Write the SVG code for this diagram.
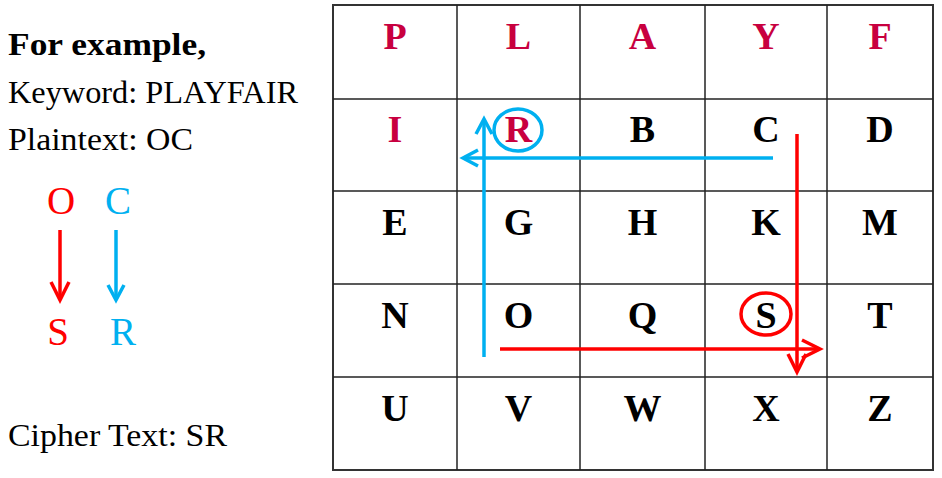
<svg xmlns="http://www.w3.org/2000/svg" width="942" height="478" viewBox="0 0 942 478">
<style>
.lbl{font-family:"Liberation Serif","Times New Roman",serif;font-size:32px;fill:#000}
.bold{font-weight:bold}
.big{font-family:"Liberation Serif","Times New Roman",serif;font-size:39px}
.ch{font-family:"Liberation Serif","Times New Roman",serif;font-size:38px;font-weight:bold;text-anchor:middle;fill:#000}
.key{fill:#C8003F}
.blue{stroke:#00B0F0;stroke-width:3.5;fill:none}
.red{stroke:#FF0000;stroke-width:3.5;fill:none}
</style>
<defs>
<marker id="ab" markerUnits="userSpaceOnUse" markerWidth="30" markerHeight="30" viewBox="-20 -15 30 30" refX="0" refY="0" orient="auto" overflow="visible">
<path d="M-15,-8 L0,0 L-15,8" fill="none" stroke="#00B0F0" stroke-width="3.5"/>
</marker>
<marker id="ar" markerUnits="userSpaceOnUse" markerWidth="30" markerHeight="30" viewBox="-20 -15 30 30" refX="0" refY="0" orient="auto" overflow="visible">
<path d="M-18,-9 L0,0 L-18,9" fill="none" stroke="#FF0000" stroke-width="3.5"/>
</marker>
</defs>
<rect width="942" height="478" fill="#fff"/>
<g id="text-left">
<text class="lbl bold" x="8" y="55" textLength="198" lengthAdjust="spacingAndGlyphs">For example,</text>
<text class="lbl" x="8" y="103" textLength="290" lengthAdjust="spacingAndGlyphs">Keyword: PLAYFAIR</text>
<text class="lbl" x="8" y="150" textLength="185" lengthAdjust="spacingAndGlyphs">Plaintext: OC</text>
<text class="lbl" x="8" y="446" textLength="219" lengthAdjust="spacingAndGlyphs">Cipher Text: SR</text>
</g>
<g id="node-O"><text class="big" x="61" y="214" text-anchor="middle" fill="#FF0000">O</text></g>
<g id="node-C"><text class="big" x="118" y="214" text-anchor="middle" fill="#00B0F0">C</text></g>
<g id="node-S"><text class="big" x="58" y="345" text-anchor="middle" fill="#FF0000">S</text></g>
<g id="node-R"><text class="big" x="123" y="345" text-anchor="middle" fill="#00B0F0">R</text></g>
<g id="grid">
<rect x="333" y="5" width="600" height="465" fill="#fff" stroke="#333" stroke-width="2"/>
<g id="cell-P"><text class="ch key" x="395" y="49">P</text></g>
<g id="cell-L"><text class="ch key" x="518.5" y="49">L</text></g>
<g id="cell-A"><text class="ch key" x="642.5" y="49">A</text></g>
<g id="cell-Y"><text class="ch key" x="766" y="49">Y</text></g>
<g id="cell-F"><text class="ch key" x="880" y="49">F</text></g>
<g id="cell-I"><text class="ch key" x="395" y="142">I</text></g>
<g id="cell-R"><text class="ch key" x="518.5" y="142">R</text></g>
<g id="cell-B"><text class="ch" x="642.5" y="142">B</text></g>
<g id="cell-C"><text class="ch" x="766" y="142">C</text></g>
<g id="cell-D"><text class="ch" x="880" y="142">D</text></g>
<g id="cell-E"><text class="ch" x="395" y="235">E</text></g>
<g id="cell-G"><text class="ch" x="518.5" y="235">G</text></g>
<g id="cell-H"><text class="ch" x="642.5" y="235">H</text></g>
<g id="cell-K"><text class="ch" x="766" y="235">K</text></g>
<g id="cell-M"><text class="ch" x="880" y="235">M</text></g>
<g id="cell-N"><text class="ch" x="395" y="328">N</text></g>
<g id="cell-O"><text class="ch" x="518.5" y="328">O</text></g>
<g id="cell-Q"><text class="ch" x="642.5" y="328">Q</text></g>
<g id="cell-S"><text class="ch" x="766" y="328">S</text></g>
<g id="cell-T"><text class="ch" x="880" y="328">T</text></g>
<g id="cell-U"><text class="ch" x="395" y="421">U</text></g>
<g id="cell-V"><text class="ch" x="518.5" y="421">V</text></g>
<g id="cell-W"><text class="ch" x="642.5" y="421">W</text></g>
<g id="cell-X"><text class="ch" x="766" y="421">X</text></g>
<g id="cell-Z"><text class="ch" x="880" y="421">Z</text></g>
<g stroke="#222" stroke-width="1.5">
<line x1="457" y1="5" x2="457" y2="470"/>
<line x1="580" y1="5" x2="580" y2="470"/>
<line x1="705" y1="5" x2="705" y2="470"/>
<line x1="827" y1="5" x2="827" y2="470"/>
<line x1="333" y1="99" x2="933" y2="99"/>
<line x1="333" y1="191" x2="933" y2="191"/>
<line x1="333" y1="284" x2="933" y2="284"/>
<line x1="333" y1="377" x2="933" y2="377"/>
</g>
</g>
<g id="connectors">
<line class="red" x1="60" y1="230" x2="60" y2="300" marker-end="url(#ar)"/>
<line class="blue" x1="116" y1="230" x2="116" y2="300" marker-end="url(#ab)"/>
<line class="blue" x1="773" y1="158" x2="463" y2="158" marker-end="url(#ab)"/>
<line class="blue" x1="484" y1="357" x2="484" y2="119" marker-end="url(#ab)"/>
<line class="red" x1="797" y1="134" x2="797" y2="372" marker-end="url(#ar)"/>
<line class="red" x1="500" y1="349" x2="820" y2="349" marker-end="url(#ar)"/>
<ellipse class="blue" cx="518" cy="130" rx="24" ry="21" stroke-width="3"/>
<ellipse class="red" cx="766" cy="314" rx="25" ry="21" stroke-width="3"/>
</g>
</svg>
